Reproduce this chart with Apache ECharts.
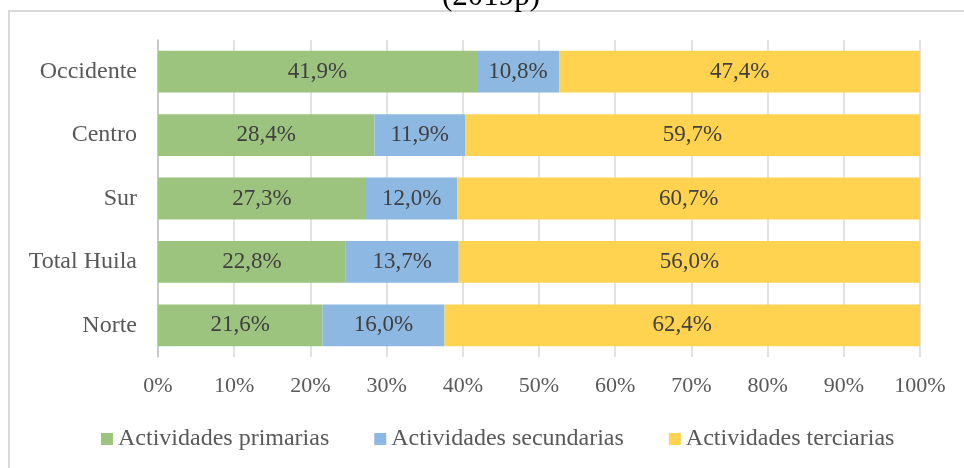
<!DOCTYPE html>
<html>
<head>
<meta charset="utf-8">
<script src="https://cdn.jsdelivr.net/npm/echarts@6/dist/echarts.min.js"></script>
<style>
  html, body { margin: 0; padding: 0; background: #fff; }
  #chart { width: 964px; height: 468px; }
</style>
</head>
<body>
<div id="chart"></div>
<script>
  // zonas (de arriba hacia abajo)
  var categorias = ['Occidente', 'Centro', 'Sur', 'Total Huila', 'Norte'];
  var nombresSeries = ['Actividades primarias', 'Actividades secundarias', 'Actividades terciarias'];
  var primarias = [41.9, 28.4, 27.3, 22.8, 21.6];
  var secundarias = [10.8, 11.9, 12.0, 13.7, 16.0];
  var terciarias = [47.4, 59.7, 60.7, 56.0, 62.4];
  var ticks = [0, 10, 20, 30, 40, 50, 60, 70, 80, 90, 100];
  var colores = ['#9dc47e', '#8db8e1', '#ffd24f'];

  var fuente = '"Liberation Serif", "Times New Roman", serif';

  // barras 100% apiladas: cada valor como parte del total de su fila
  var totales = categorias.map(function (c, i) {
    return primarias[i] + secundarias[i] + terciarias[i];
  });
  function serie(nombre, valores, color) {
    return {
      name: nombre,
      type: 'bar',
      stack: 'total',
      barCategoryGap: '34%',
      itemStyle: { color: color },
      label: {
        show: true,
        position: 'inside',
        fontFamily: fuente,
        fontSize: 23,
        color: '#404040',
        formatter: function (p) {
          return valores[p.dataIndex].toFixed(1).replace('.', ',') + '%';
        }
      },
      data: valores.map(function (v, i) { return v / totales[i] * 100; })
    };
  }

  var chart = echarts.init(document.getElementById('chart'), null, { renderer: 'canvas' });
  var option = {
    animation: false,
    backgroundColor: '#fff',
    graphic: [
      {
        type: 'rect',
        shape: { x: 9, y: 11, width: 1000, height: 500 },
        style: { fill: 'none', stroke: '#d9d9d9', lineWidth: 2 },
        silent: true
      },
      {
        type: 'text',
        left: 442,
        top: -19,
        style: { text: '(2019p)', fontFamily: fuente, fontSize: 31, fill: '#000' },
        silent: true
      }
    ],
    grid: { left: 158, right: 44, top: 40, bottom: 111 },
    legend: {
      left: 96,
      top: 422,
      itemWidth: 12,
      itemHeight: 12,
      itemGap: 45,
      icon: 'rect',
      textStyle: { fontFamily: fuente, fontSize: 24, color: '#595959' },
      data: nombresSeries
    },
    xAxis: {
      type: 'value',
      min: 0,
      max: 100,
      interval: 10,
      axisLine: { show: false },
      axisTick: { show: false },
      splitLine: { lineStyle: { color: '#d9d9d9', width: 1.5 } },
      axisLabel: {
        margin: 18,
        fontFamily: fuente,
        fontSize: 22,
        color: '#595959',
        formatter: function (v) { return ticks.indexOf(v) >= 0 ? v + '%' : ''; }
      }
    },
    yAxis: {
      type: 'category',
      inverse: true,
      data: categorias,
      axisLine: { show: true, lineStyle: { color: '#bfbfbf', width: 1.5 } },
      axisTick: { show: false },
      axisLabel: { margin: 21, fontFamily: fuente, fontSize: 24, color: '#595959' }
    },
    series: [
      serie(nombresSeries[0], primarias, colores[0]),
      serie(nombresSeries[1], secundarias, colores[1]),
      serie(nombresSeries[2], terciarias, colores[2])
    ]
  };
  chart.setOption(option);
</script>
</body>
</html>
